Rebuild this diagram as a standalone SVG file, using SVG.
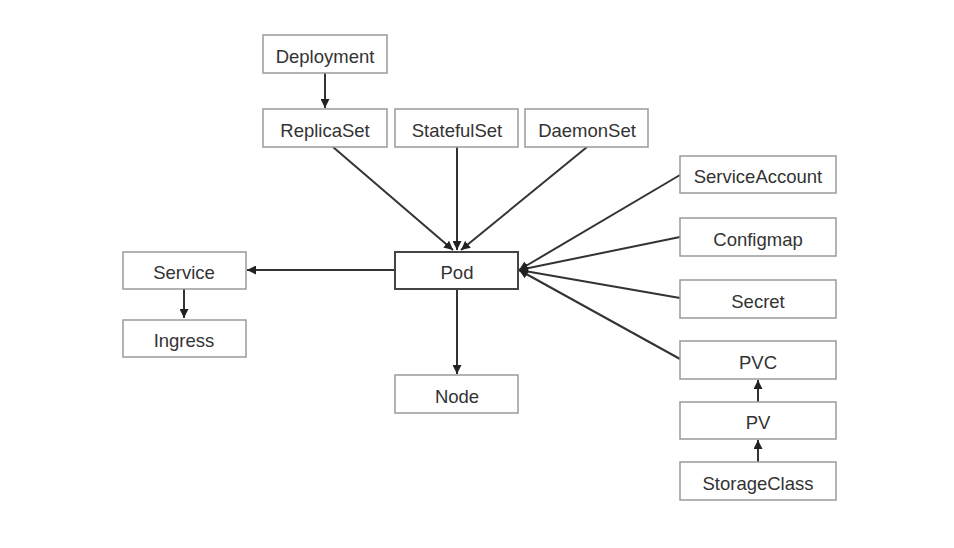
<svg xmlns="http://www.w3.org/2000/svg" width="954" height="548" viewBox="0 0 954 548">
  <style>
    .box { fill: #ffffff; stroke: #9a9a9a; stroke-width: 1.5; }
    .box.main { stroke: #444444; stroke-width: 2; }
    .label { font-family: "Liberation Sans", Arial, sans-serif; font-size: 18.5px; fill: #333333; text-anchor: middle; dominant-baseline: central; }
    .edge { stroke: #333333; stroke-width: 2; fill: none; }
  </style>
  <defs>
    <marker id="arrow" viewBox="0 0 10 10" refX="10" refY="5" markerWidth="4.5" markerHeight="4.5" orient="auto" markerUnits="strokeWidth">
      <path d="M0,0 L10,5 L0,10 Z" fill="#222222"/>
    </marker>
  </defs>
  <rect width="954" height="548" fill="#ffffff"/>

  <g id="connectors">
    <line class="edge" x1="325" y1="73" x2="325" y2="108" marker-end="url(#arrow)"/>
    <line class="edge" x1="333" y1="147" x2="453" y2="250" marker-end="url(#arrow)"/>
    <line class="edge" x1="457" y1="147" x2="457" y2="250" marker-end="url(#arrow)"/>
    <line class="edge" x1="587" y1="147" x2="461" y2="250" marker-end="url(#arrow)"/>
    <line class="edge" x1="394" y1="270" x2="247" y2="270" marker-end="url(#arrow)"/>
    <line class="edge" x1="184" y1="289" x2="184" y2="318" marker-end="url(#arrow)"/>
    <line class="edge" x1="457" y1="289" x2="457" y2="374" marker-end="url(#arrow)"/>
    <line class="edge" x1="680" y1="175" x2="519" y2="270" marker-end="url(#arrow)"/>
    <line class="edge" x1="680" y1="237" x2="519" y2="270" marker-end="url(#arrow)"/>
    <line class="edge" x1="680" y1="298" x2="519" y2="270" marker-end="url(#arrow)"/>
    <line class="edge" x1="680" y1="359" x2="519" y2="270" marker-end="url(#arrow)"/>
    <line class="edge" x1="758" y1="402" x2="758" y2="380" marker-end="url(#arrow)"/>
    <line class="edge" x1="758" y1="462" x2="758" y2="440" marker-end="url(#arrow)"/>
  </g>

  <g id="deployment"><rect class="box" x="263" y="35" width="124" height="38"/><text class="label" x="325" y="56">Deployment</text></g>
  <g id="replicaset"><rect class="box" x="263" y="109" width="124" height="38"/><text class="label" x="325" y="130">ReplicaSet</text></g>
  <g id="statefulset"><rect class="box" x="395" y="109" width="123" height="38"/><text class="label" x="457" y="130">StatefulSet</text></g>
  <g id="daemonset"><rect class="box" x="525" y="109" width="123" height="38"/><text class="label" x="587" y="130">DaemonSet</text></g>
  <g id="pod"><rect class="box main" x="395" y="252" width="123" height="37"/><text class="label" x="457" y="272">Pod</text></g>
  <g id="service"><rect class="box" x="123" y="252" width="123" height="37"/><text class="label" x="184" y="272">Service</text></g>
  <g id="ingress"><rect class="box" x="123" y="320" width="123" height="37"/><text class="label" x="184" y="340">Ingress</text></g>
  <g id="node"><rect class="box" x="395" y="375" width="123" height="38"/><text class="label" x="457" y="396">Node</text></g>
  <g id="serviceaccount"><rect class="box" x="680" y="156" width="156" height="37"/><text class="label" x="758" y="176">ServiceAccount</text></g>
  <g id="configmap"><rect class="box" x="680" y="218" width="156" height="38"/><text class="label" x="758" y="239">Configmap</text></g>
  <g id="secret"><rect class="box" x="680" y="280" width="156" height="38"/><text class="label" x="758" y="301">Secret</text></g>
  <g id="pvc"><rect class="box" x="680" y="341" width="156" height="38"/><text class="label" x="758" y="362">PVC</text></g>
  <g id="pv"><rect class="box" x="680" y="402" width="156" height="37"/><text class="label" x="758" y="422">PV</text></g>
  <g id="storageclass"><rect class="box" x="680" y="462" width="156" height="38"/><text class="label" x="758" y="483">StorageClass</text></g>
</svg>
